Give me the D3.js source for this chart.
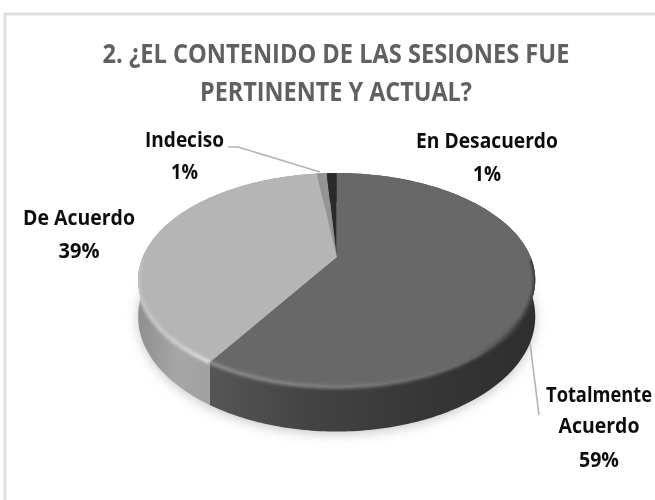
<!DOCTYPE html>
<html>
<head>
<meta charset="utf-8">
<script src="https://cdnjs.cloudflare.com/ajax/libs/d3/7.8.5/d3.min.js"></script>
<style>
  html, body { margin: 0; padding: 0; background: #fff; }
  text { font-family: "Open Sans", Lato, sans-serif; font-weight: 700; }
</style>
</head>
<body>
<div id="chart"></div>
<script>
var categories = ["Totalmente Acuerdo", "De Acuerdo", "Indeciso", "En Desacuerdo"];
var percents = [59, 39, 1, 1];
var title_lines = ["2. ¿EL CONTENIDO DE LAS SESIONES FUE", "PERTINENTE  Y ACTUAL?"];

var width = 655, height = 500;

// label placement, one entry per category
var label_layout = [
  {x: 599, y: [402, 433, 467], lines: ["Totalmente", "Acuerdo"], w: [106, 81, 40]},
  {x: 79, y: [225, 258], lines: ["De Acuerdo"], w: [112, 41]},
  {x: 184.5, y: [147, 179], lines: ["Indeciso"], w: [79, 27]},
  {x: 487, y: [148, 181], lines: ["En Desacuerdo"], w: [142, 28]}
];

var top_colours = ["#686868", "#b5b5b5", "#949494", "#2b2b2b"];

var svg = d3.select("#chart")
  .append("svg")
  .attr("width", width)
  .attr("height", height)
  .style("display", "block");

var defs = svg.append("defs");

defs.append("filter").attr("id", "soft").attr("x", "-20%").attr("y", "-20%").attr("width", "140%").attr("height", "140%")
  .append("feGaussianBlur").attr("stdDeviation", 6);
defs.append("filter").attr("id", "rim_blur").attr("x", "-10%").attr("y", "-10%").attr("width", "120%").attr("height", "120%")
  .append("feGaussianBlur").attr("stdDeviation", 1.6);
defs.append("filter").attr("id", "text_blur")
  .append("feGaussianBlur").attr("stdDeviation", 0.35);

function gradient(id, x1, x2, stops) {
  var g = defs.append("linearGradient")
    .attr("id", id)
    .attr("gradientUnits", "userSpaceOnUse")
    .attr("x1", x1).attr("x2", x2).attr("y1", 0).attr("y2", 0);
  stops.forEach(function(s) {
    g.append("stop").attr("offset", s[0]).attr("stop-color", s[1]);
  });
}

gradient("side0", 215, 535, [[0, "#555555"], [0.3, "#434343"], [0.7, "#353535"], [1, "#2e2e2e"]]);
gradient("side1", 138, 216, [[0, "#8e8e8e"], [0.5, "#a6a6a6"], [1, "#a0a0a0"]]);
gradient("rim0", 215, 535, [[0, "#8a8a8a"], [0.4, "#7c7c7c"], [0.8, "#666666"], [1, "#333333"]]);
gradient("rim1", 138, 216, [[0, "#c4c4c4"], [0.6, "#d0d0d0"], [1, "#e6e6e6"]]);

// tilted disc with perspective: far side is squeezed, the hub sits above the ellipse centre
var hub_x = 336.7, hub_y = 257, disc_a = 193.9, disc_b = 102, disc_k = 0.215, disc_depth = 35;

function project(angle, drop) {
  var u = Math.sin(angle), v = Math.cos(angle);
  var w = 1 + disc_k * v;
  return [hub_x + disc_a * u / w, hub_y - disc_b * v / w + drop / w];
}

function samples(d) {
  var n = Math.max(2, Math.ceil((d.endAngle - d.startAngle) * 60));
  return d3.range(n + 1).map(function(i) {
    return d.startAngle + (d.endAngle - d.startAngle) * i / n;
  });
}

// squeeze a centred text to the width it has in the picture
function fit_text(d) {
  var natural = this.getComputedTextLength();
  d3.select(this).attr("transform", "translate(" + d.x + "," + d.y + ") scale(" + (d.w / natural) + ",1)");
}

var line = d3.line();

var pie = d3.pie().sort(null).value(function(d) { return d; });
var arcs = pie(percents);

var full_circle = d3.range(181).map(function(i) { return i / 180 * 2 * Math.PI; });

// keeps the blurred bevel inside the disc
var clip = defs.append("clipPath").attr("id", "disc_clip");
clip.append("path").attr("d", line(full_circle.map(function(t) { return project(t, 0); })) + "Z");
clip.append("path").attr("d", line(full_circle.map(function(t) { return project(t, disc_depth); })) + "Z");

// frame
svg.append("path")
  .attr("d", "M5," + height + "V14H" + width)
  .attr("fill", "none")
  .attr("stroke", "#e0e0e0")
  .attr("stroke-width", 3);

// soft shadow under the disc
svg.append("path")
  .attr("d", line(full_circle.map(function(t) { return project(t, disc_depth + 2); })))
  .attr("fill", "#c8c8c8")
  .attr("filter", "url(#soft)");

// leader lines
var leaders = [
  [[529, 335], [539, 415]],
  [[228, 147], [238, 147], [320, 172]]
];
svg.selectAll(".leader")
  .data(leaders)
  .enter()
  .append("path")
  .attr("class", "leader")
  .attr("d", function(d) { return line(d); })
  .attr("fill", "none")
  .attr("stroke", "#b4b4b4")
  .attr("stroke-width", 1.6);

// side walls
svg.selectAll(".side")
  .data(arcs)
  .enter()
  .append("path")
  .attr("class", "side")
  .attr("d", function(d) {
    var a = samples(d);
    var upper = a.map(function(t) { return project(t, 0); });
    var lower = a.slice().reverse().map(function(t) { return project(t, disc_depth); });
    return line(upper.concat(lower)) + "Z";
  })
  .attr("fill", function(d, i) {
    return i < 2 ? "url(#side" + i + ")" : top_colours[i];
  });

// top faces
svg.selectAll(".slice")
  .data(arcs)
  .enter()
  .append("path")
  .attr("class", "slice")
  .attr("d", function(d) {
    var pts = samples(d).map(function(t) { return project(t, 0); });
    return line([[hub_x, hub_y]].concat(pts)) + "Z";
  })
  .attr("fill", function(d, i) { return top_colours[i]; });

// bevel highlight on the front edge only
svg.append("g")
  .attr("clip-path", "url(#disc_clip)")
  .selectAll(".rim")
  .data(arcs.slice(0, 2))
  .enter()
  .append("path")
  .attr("class", "rim")
  .attr("d", function(d) {
    var pts = samples(d)
      .filter(function(t) { return Math.cos(t) < -0.02; })
      .map(function(t) { return project(t, 0); });
    return line(pts);
  })
  .attr("fill", "none")
  .attr("stroke", function(d, i) { return "url(#rim" + i + ")"; })
  .attr("stroke-width", 4)
  .attr("filter", "url(#rim_blur)");

// title
svg.selectAll(".title")
  .data(title_lines.map(function(t, i) {
    return {text: t, x: 336, y: 63 + i * 38, w: i === 0 ? 467 : 272};
  }))
  .enter()
  .append("text")
  .attr("class", "title")
  .attr("text-anchor", "middle")
  .attr("font-size", 26.5)
  .attr("fill", "#606060")
  .attr("filter", "url(#text_blur)")
  .text(function(d) { return d.text; })
  .each(fit_text);

// data labels
var label_text = categories.map(function(c, i) {
  return label_layout[i].lines.concat([percents[i] + "%"]).map(function(t, j) {
    return {text: t, x: label_layout[i].x, y: label_layout[i].y[j], w: label_layout[i].w[j]};
  });
});

svg.selectAll(".label")
  .data(d3.merge(label_text))
  .enter()
  .append("text")
  .attr("class", "label")
  .attr("text-anchor", "middle")
  .attr("font-size", 21)
  .attr("fill", "#111")
  .attr("filter", "url(#text_blur)")
  .text(function(d) { return d.text; })
  .each(fit_text);
</script>
</body>
</html>
